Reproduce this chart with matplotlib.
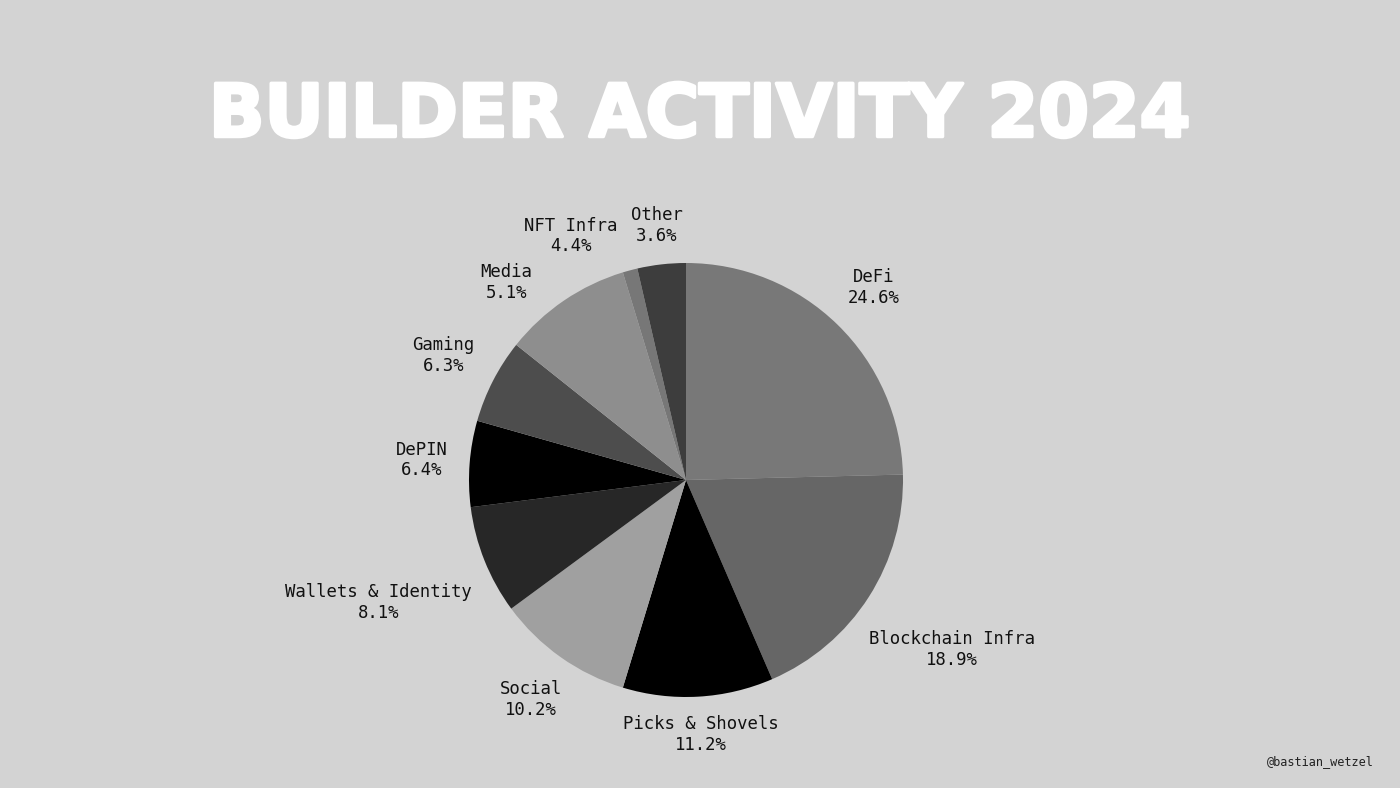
import numpy as np
import matplotlib
matplotlib.use("Agg")
import matplotlib.pyplot as plt
import matplotlib.patheffects as pe

# Data
categories = ["DeFi", "Blockchain Infra", "Picks & Shovels", "Social",
              "Wallets & Identity", "DePIN", "Gaming", "Media", "NFT Infra", "Other"]
slice_values = [24.6, 18.9, 11.2, 10.2, 8.1, 6.4, 6.3, 9.6, 1.1, 3.6]
label_values = [24.6, 18.9, 11.2, 10.2, 8.1, 6.4, 6.3, 5.1, 4.4, 3.6]
colors = ["#787878", "#666666", "#000000", "#a0a0a0", "#272727",
          "#000000", "#4d4d4d", "#8e8e8e", "#777777", "#3d3d3d"]
label_radius = [1.238, 1.452, 1.175, 1.239, 1.525, 1.22, 1.258, 1.23, 1.243, 1.18]
label_nudge_deg = [0, 0, 0, 0, 0, 0, 0, 0, 0, -4.3]

BG = "#d3d3d3"
fig = plt.figure(figsize=(14, 7.88), dpi=100, facecolor=BG)
ax = fig.add_axes([0, 0, 1, 1])
ax.set_facecolor(BG)
ax.set_xlim(0, 1400)
ax.set_ylim(788, 0)
ax.axis("off")

# pie in its own axes
cx, cy, R = 686, 480, 217
pax = fig.add_axes([(cx - R) / 1400, 1 - (cy + R) / 788, 2 * R / 1400, 2 * R / 788])
pax.set_facecolor("none")
wedges, _ = pax.pie(slice_values, colors=colors, startangle=90, counterclock=False,
                    wedgeprops=dict(linewidth=0))
pax.set_xlim(-1, 1)
pax.set_ylim(-1, 1)
pax.axis("off")

# label angles from the labelled percentages
cum = np.cumsum([0] + label_values[:-1])
mids = cum + np.array(label_values) / 2
for cat, v, mid, rf, nd in zip(categories, label_values, mids, label_radius, label_nudge_deg):
    ang = np.deg2rad(90 - mid / 100 * 360 + nd)
    x = rf * np.cos(ang)
    y = rf * np.sin(ang)
    pax.text(x, y, f"{cat}\n{v:.1f}%", ha="center", va="center",
             fontsize=12.4, family="DejaVu Sans Mono", color="#111111",
             linespacing=1.2, clip_on=False)

ax.text(700, 116, "BUILDER ACTIVITY 2024", ha="center", va="center",
        fontsize=52.5, fontweight="bold", family="DejaVu Sans", color="white",
        path_effects=[pe.withStroke(linewidth=2.5, foreground="white")])
ax.text(1320, 762, "@bastian_wetzel", ha="center", va="center",
        fontsize=8.6, family="DejaVu Sans Mono", color="#222222")

fig.savefig("out.png", dpi=100, facecolor=BG)
